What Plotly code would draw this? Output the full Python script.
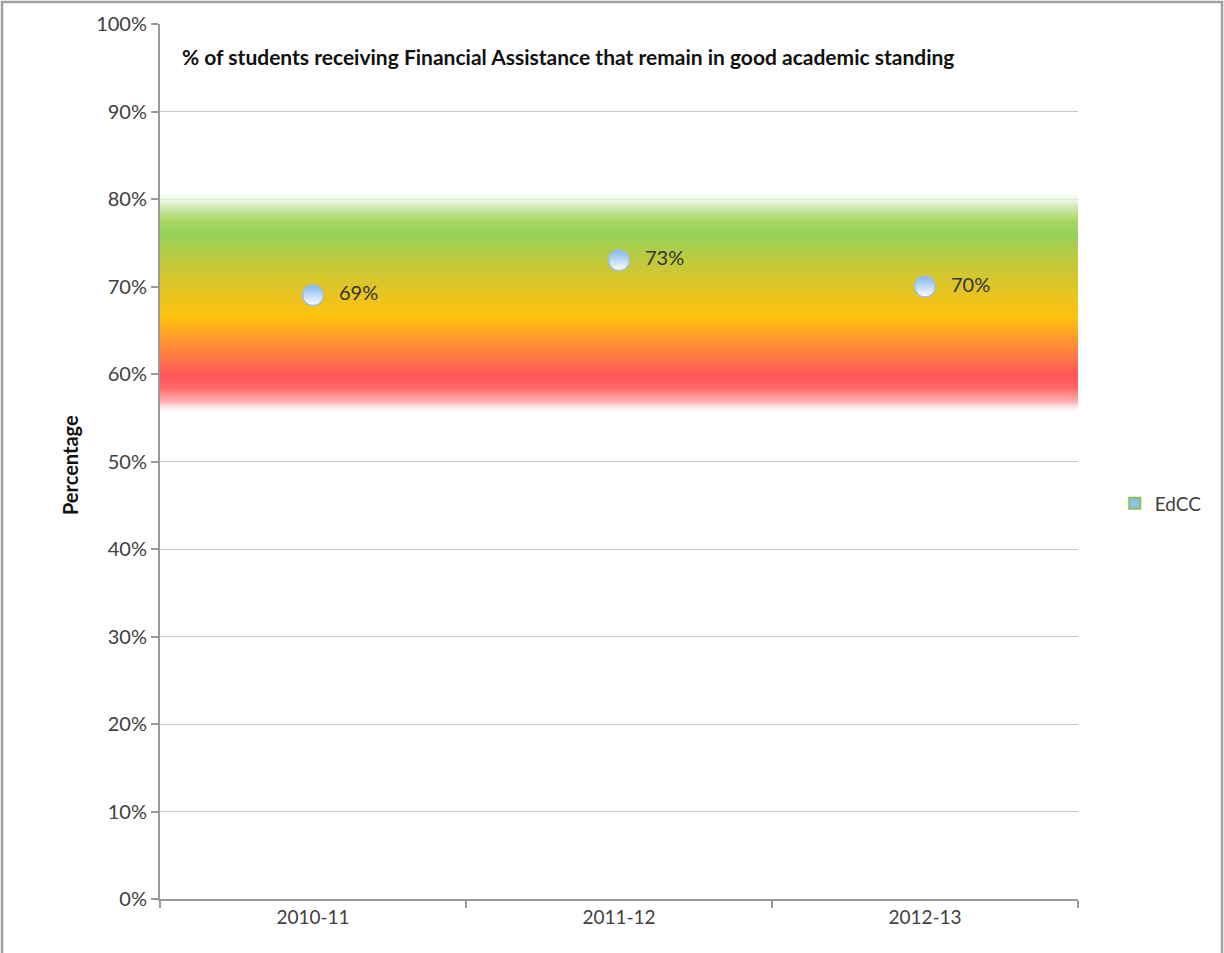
import plotly.graph_objects as go

# Data
categories = ["2010-11", "2011-12", "2012-13"]
values = [0.69, 0.73, 0.70]
labels = ["69%", "73%", "70%"]
series_name = "EdCC"
title_text = "% of students receiving Financial Assistance that remain in good academic standing"
y_title = "Percentage"
y_tick_vals = [0, 0.1, 0.2, 0.3, 0.4, 0.5, 0.6, 0.7, 0.8, 0.9, 1.0]
y_tick_text = ["0%", "10%", "20%", "30%", "40%", "50%", "60%", "70%", "80%", "90%", "100%"]

# Background target band (gradient stops: level -> colour)
band_levels = [0.555, 0.568, 0.585, 0.60, 0.625, 0.645, 0.665, 0.685, 0.71, 0.735, 0.76, 0.775, 0.795, 0.812]
band_colors = [
    "rgba(255,255,255,0)",
    "rgba(255,170,170,0.9)",
    "rgba(255,95,95,1)",
    "rgba(255,80,80,1)",
    "rgba(255,122,56,1)",
    "rgba(255,155,32,1)",
    "rgba(255,192,0,1)",
    "rgba(238,192,16,1)",
    "rgba(214,196,34,1)",
    "rgba(184,200,56,1)",
    "rgba(146,208,80,1)",
    "rgba(160,212,88,1)",
    "rgba(222,238,200,1)",
    "rgba(255,255,255,0)",
]

n = len(band_levels)
colorscale = [[i / (n - 1), c] for i, c in enumerate(band_colors)]
z = [[i] * len(categories) for i in range(n)]

fig = go.Figure()
fig.add_trace(go.Heatmap(
    x=categories, y=band_levels, z=z,
    colorscale=colorscale, zmin=0, zmax=n - 1,
    showscale=False, zsmooth="best", opacity=0.95,
    hoverinfo="skip", showlegend=False,
))
fig.add_trace(go.Scatter(
    x=categories, y=values, mode="markers", name=series_name, showlegend=False,
    marker=dict(size=21, color="#7fb4ee",
                gradient=dict(type="vertical", color="#ffffff"),
                line=dict(color="#a8bccf", width=1.5)),
    cliponaxis=False,
))
# data labels, offset to the right of the points
fig.add_trace(go.Scatter(
    x=categories, y=values, mode="text+markers", showlegend=False,
    text=labels, textposition="middle right",
    textfont=dict(family="Lato", size=20, color="#333333"),
    marker=dict(size=40, color="rgba(0,0,0,0)"),
    hoverinfo="skip", cliponaxis=False,
))
# legend entry (square key as in the original)
fig.add_trace(go.Scatter(
    x=[None], y=[None], mode="markers", name=series_name,
    marker=dict(symbol="square", size=11, color="#8fc0e8",
                line=dict(color="#8cc060", width=2)),
))

fig.update_layout(
    width=1224, height=953,
    margin=dict(l=160, r=146, t=24, b=54),
    paper_bgcolor="white", plot_bgcolor="white",
    font=dict(family="Lato", size=20, color="#404040"),
    showlegend=True,
    legend=dict(x=1.04, y=0.452, xanchor="left", yanchor="middle",
                font=dict(family="Lato", size=19, color="#404040"),
                bgcolor="rgba(0,0,0,0)", itemwidth=30),
    xaxis=dict(
        type="category", range=[-0.5, 2.5], tickson="boundaries",
        showgrid=False, showline=True, linecolor="#9a9a9a", linewidth=2,
        ticks="outside", ticklen=7, tickcolor="#9a9a9a", tickwidth=1.5,
        tickfont=dict(family="Lato", size=19, color="#404040"),
        zeroline=False,
    ),
    yaxis=dict(
        range=[0, 1.0], tickvals=y_tick_vals, ticktext=y_tick_text,
        showgrid=True, gridcolor="#c8c8c8", gridwidth=1.2,
        showline=True, linecolor="#9a9a9a", linewidth=2,
        ticks="outside", ticklen=7, tickcolor="#9a9a9a", tickwidth=1.5,
        tickfont=dict(family="Lato", size=20, color="#404040"),
        zeroline=False,
    ),
    annotations=[
        dict(text="<b>" + title_text + "</b>", xref="paper", yref="paper",
             x=0.0218, y=0.9634, xanchor="left", yanchor="middle", showarrow=False,
             font=dict(family="Lato", size=21, color="#111111")),
        dict(text="<b>" + y_title + "</b>", xref="paper", yref="paper",
             x=-0.098, y=0.496, xanchor="center", yanchor="middle", textangle=-90,
             showarrow=False, font=dict(family="Lato", size=20, color="#111111")),
    ],
    shapes=[
        dict(type="rect", xref="paper", yref="paper",
             x0=-0.1721, x1=1.1569, y0=-0.07, y1=1.0251,
             line=dict(color="#a0a0a0", width=2.5), fillcolor="rgba(0,0,0,0)", layer="below"),
    ],
)

fig.write_html("out.html", config={"displayModeBar": False},
               post_script="document.body.style.margin='0';document.body.style.overflow='hidden';")
